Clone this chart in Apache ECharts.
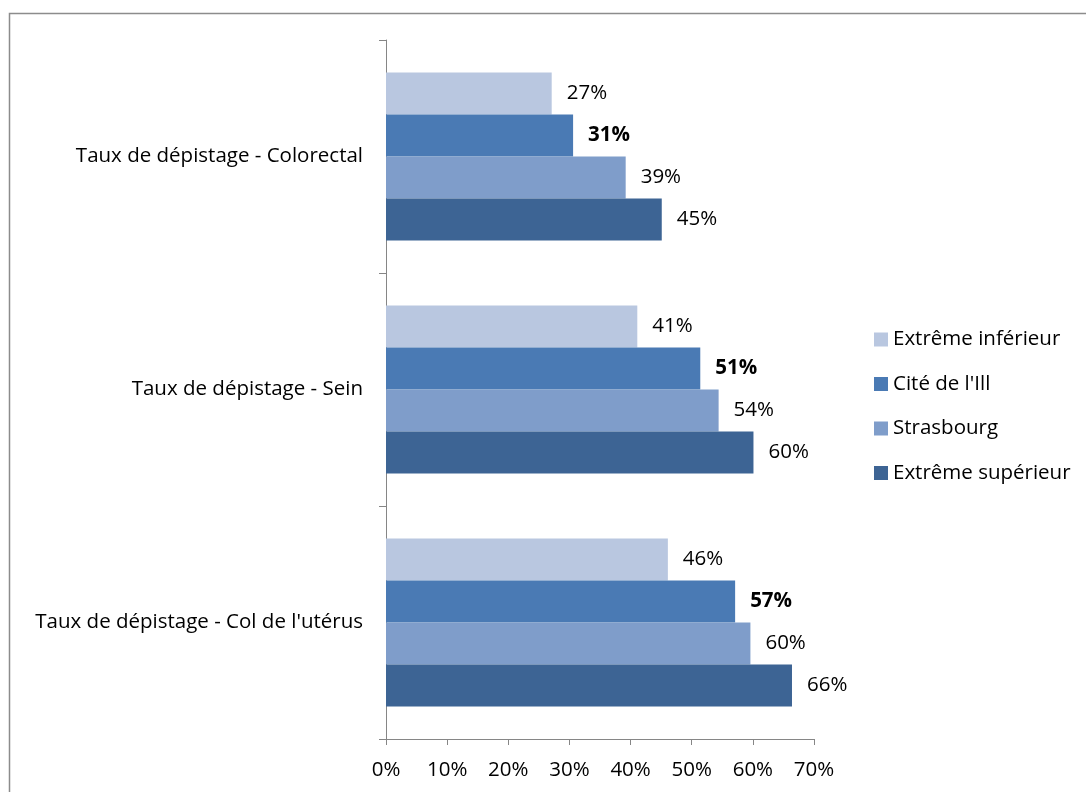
<!DOCTYPE html>
<html>
<head>
<meta charset="utf-8">
<script src="https://cdn.jsdelivr.net/npm/echarts@6/dist/echarts.min.js"></script>
<style>
html,body{margin:0;padding:0;background:#fff;}
#chart{width:1086px;height:792px;}
</style>
</head>
<body>
<div id="chart"></div>
<script>
const categories = ["Taux de dépistage - Colorectal", "Taux de dépistage - Sein", "Taux de dépistage - Col de l'utérus"];
const seriesNames = ["Extrême inférieur", "Cité de l'Ill", "Strasbourg", "Extrême supérieur"];
const extremeInferieur = [27.1, 41.1, 46.1];
const citeDeLIll = [30.6, 51.4, 57.1];
const strasbourg = [39.2, 54.4, 59.6];
const extremeSuperieur = [45.1, 60.1, 66.4];
const xTicks = [0, 10, 20, 30, 40, 50, 60, 70];

const FONT = 'Open Sans';
const FS = 20.5;
const colors = ['#B9C7E0', '#4A7AB4', '#7F9DCA', '#3D6494'];
const values = [extremeInferieur, citeDeLIll, strasbourg, extremeSuperieur];

const chart = echarts.init(document.getElementById('chart'), null, {renderer: 'canvas'});
const option = {
  animation: false,
  textStyle: {fontFamily: FONT},
  graphic: [{
    type: 'rect',
    shape: {x: 9.5, y: 13.5, width: 1100, height: 800},
    style: {fill: 'none', stroke: '#8c8c8c', lineWidth: 1.5},
    silent: true
  }],
  grid: {left: 386, right: 272, top: 40, bottom: 53, containLabel: false},
  legend: {
    orient: 'vertical',
    left: 869,
    top: 324,
    padding: 5,
    itemWidth: 14,
    itemHeight: 14,
    itemGap: 23.5,
    icon: 'rect',
    textStyle: {fontFamily: FONT, fontSize: FS, color: '#000'},
    data: seriesNames
  },
  xAxis: {
    type: 'value',
    min: xTicks[0],
    max: xTicks[xTicks.length - 1],
    interval: 10,
    splitLine: {show: false},
    axisLine: {show: true, lineStyle: {color: '#868686', width: 1}},
    axisTick: {show: true, length: 6, lineStyle: {color: '#868686'}},
    axisLabel: {fontFamily: FONT, fontSize: FS, color: '#000', margin: 21, formatter: v => v + '%'}
  },
  yAxis: {
    type: 'category',
    inverse: true,
    data: categories,
    axisLine: {show: true, lineStyle: {color: '#868686', width: 1}},
    axisTick: {show: true, length: 7, alignWithLabel: false, lineStyle: {color: '#868686'}},
    axisLabel: {fontFamily: FONT, fontSize: FS, color: '#000', margin: 23}
  },
  series: seriesNames.map((name, i) => ({
    name: name,
    type: 'bar',
    data: values[i],
    barGap: '0%',
    barCategoryGap: '28%',
    itemStyle: {color: colors[i]},
    label: {
      show: true,
      position: 'right',
      distance: 15,
      fontFamily: FONT,
      fontSize: FS,
      color: '#000',
      fontWeight: i === 1 ? 'bold' : 'normal',
      formatter: p => Math.round(p.value) + '%'
    }
  }))
};
chart.setOption(option);
</script>
</body>
</html>
